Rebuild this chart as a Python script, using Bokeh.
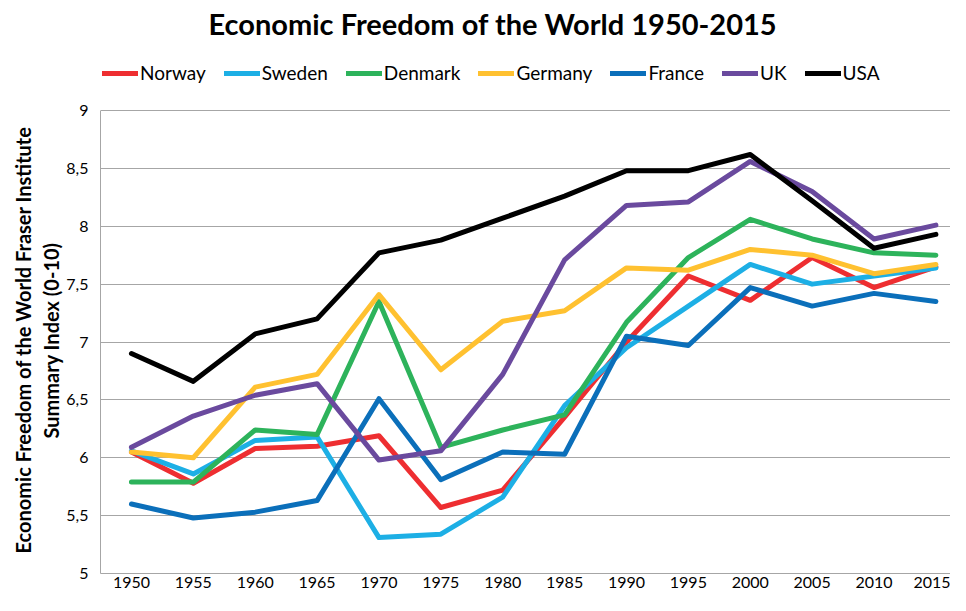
from bokeh.plotting import figure
from bokeh.models import (Range1d, FixedTicker, CustomJSTickFormatter, Legend, LegendItem, Title)
from bokeh.embed import file_html
from bokeh.resources import INLINE

years = [1950, 1955, 1960, 1965, 1970, 1975, 1980, 1985, 1990, 1995, 2000, 2005, 2010, 2015]
norway = [6.05, 5.78, 6.08, 6.10, 6.19, 5.57, 5.72, 6.35, 7.00, 7.57, 7.36, 7.73, 7.47, 7.65]
sweden = [6.06, 5.86, 6.15, 6.18, 5.31, 5.34, 5.66, 6.45, 6.95, 7.31, 7.67, 7.50, 7.57, 7.64]
denmark = [5.79, 5.79, 6.24, 6.20, 7.35, 6.09, 6.24, 6.37, 7.17, 7.73, 8.06, 7.89, 7.77, 7.75]
germany = [6.05, 6.00, 6.61, 6.72, 7.41, 6.76, 7.18, 7.27, 7.64, 7.62, 7.80, 7.75, 7.59, 7.67]
france = [5.60, 5.48, 5.53, 5.63, 6.51, 5.81, 6.05, 6.03, 7.05, 6.97, 7.47, 7.31, 7.42, 7.35]
uk = [6.09, 6.36, 6.54, 6.64, 5.98, 6.06, 6.72, 7.71, 8.18, 8.21, 8.56, 8.30, 7.89, 8.01]
usa = [6.90, 6.66, 7.07, 7.20, 7.77, 7.88, 8.07, 8.26, 8.48, 8.48, 8.62, 8.22, 7.81, 7.93]

series_names = ["Norway", "Sweden", "Denmark", "Germany", "France", "UK", "USA"]
series_values = [norway, sweden, denmark, germany, france, uk, usa]
series_colors = ["#EE2E31", "#1DAFE5", "#2DB35B", "#FFC130", "#0B6FBA", "#6A4A9E", "#000000"]
y_ticks = [5, 5.5, 6, 6.5, 7, 7.5, 8, 8.5, 9]
y_label_lines = ["Economic Freedom of the World Fraser Institute", "Summary Index (0-10)"]

FONT = "Lato"

# frame: top 40, value 9 at 110, value 5 at 573 -> headroom above 9 holds the legend
Y_TOP = 9 + 70 / (463 / 4)

p = figure(width=950, height=595, output_backend="svg", toolbar_location=None,
           x_range=Range1d(1947.5, 2016.18), y_range=Range1d(5, Y_TOP),
           title="Economic Freedom of the World 1950-2015",
           min_border_left=100, min_border_top=40, min_border_right=0, min_border_bottom=22)
p.outline_line_color = None
p.xgrid.visible = False
p.ygrid.grid_line_color = "#A6A6A6"
p.ygrid.grid_line_width = 1

p.title.align = "left"
p.title.offset = 108
p.title.standoff = 0
p.title.text_font = FONT
p.title.text_font_style = "bold"
p.title.text_font_size = "29px"
p.title.text_color = "#000000"

p.xaxis.ticker = FixedTicker(ticks=years)
p.yaxis.ticker = FixedTicker(ticks=y_ticks)
p.yaxis.bounds = (5, 9)
p.yaxis.formatter = CustomJSTickFormatter(code="return tick.toString().replace('.', ',');")
for ax in (p.xaxis, p.yaxis):
    ax.axis_line_color = "#A6A6A6"
    ax.major_tick_out = 0
    ax.major_tick_in = 0
    ax.minor_tick_out = 0
    ax.minor_tick_in = 0
    ax.major_label_text_font = FONT
    ax.major_label_text_font_size = "16px"
    ax.major_label_text_color = "#000000"
p.xaxis.major_label_standoff = 3
p.yaxis.major_label_standoff = 12

# two-line y-axis title, centred on the 5..9 span
for text, off in ((y_label_lines[1], 135), (y_label_lines[0], 20)):
    t = Title(text=text, align="left", offset=off, standoff=2,
              text_font=FONT, text_font_style="bold", text_font_size="20px",
              text_color="#000000")
    p.add_layout(t, "left")

items = []
for name, vals, col in zip(series_names, series_values, series_colors):
    r = p.line(years, vals, line_color=col, line_width=5, line_cap="round", line_join="round")
    items.append(LegendItem(label=name, renderers=[r]))

legend = Legend(items=items, orientation="horizontal", location=(2, 489),
                glyph_width=36, glyph_height=22, label_standoff=2, spacing=18,
                padding=0, margin=0, border_line_color=None, background_fill_alpha=0,
                label_text_font=FONT, label_text_font_size="19px", label_text_color="#000000")
p.add_layout(legend, "center")

open("out.html", "w").write(file_html(p, INLINE))
